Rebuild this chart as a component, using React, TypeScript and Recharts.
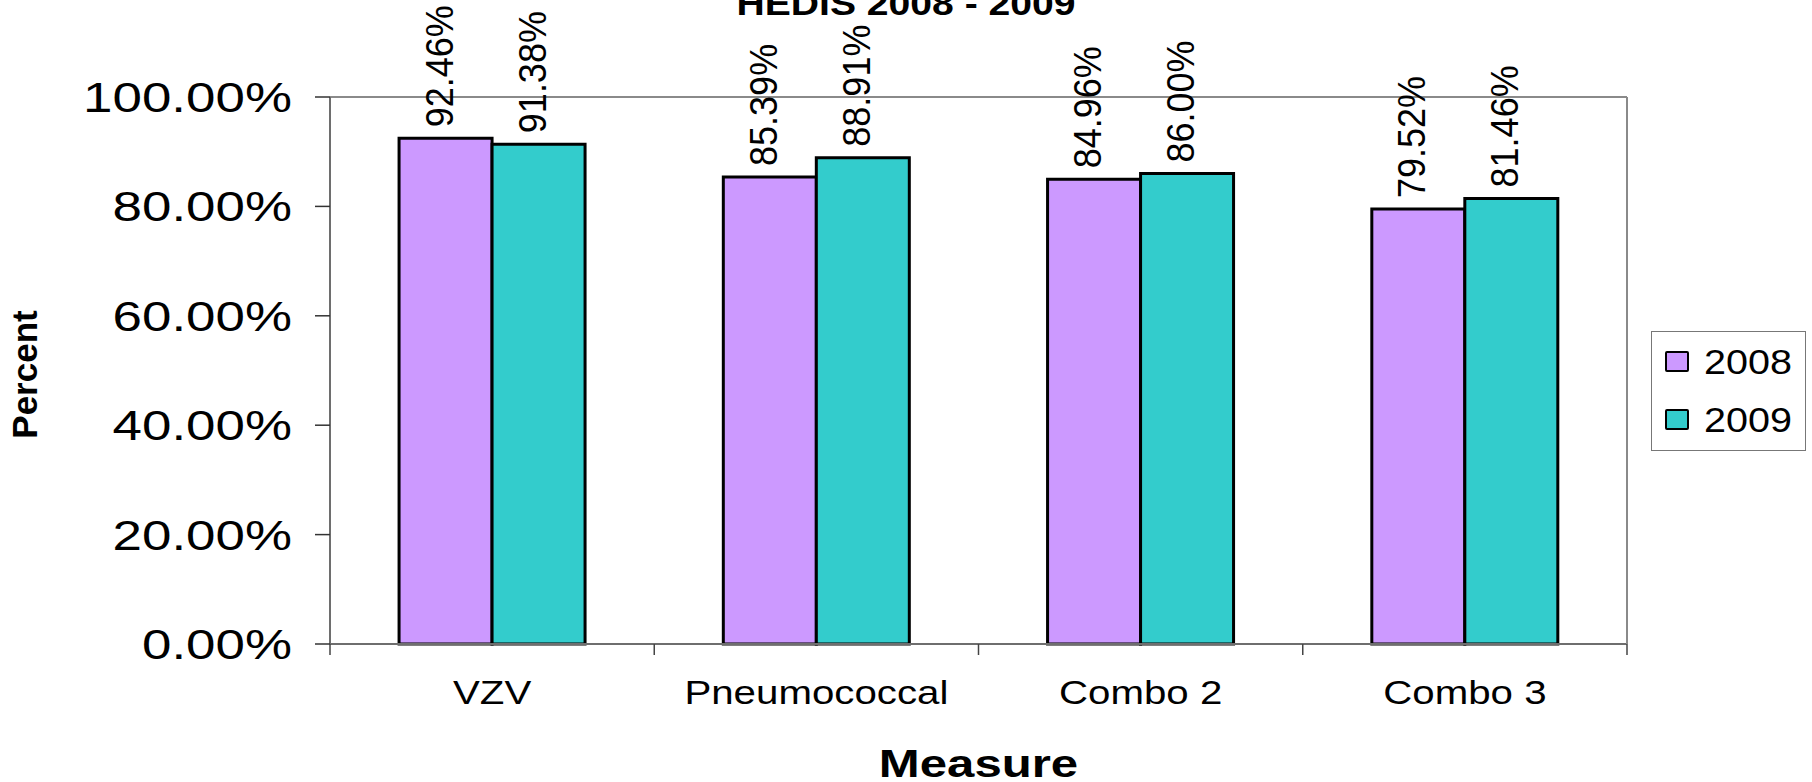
import React from "react"
import { BarChart, Bar, XAxis, YAxis, Legend, LabelList, Label } from "recharts"

const measures = ["VZV", "Pneumococcal", "Combo 2", "Combo 3"]
const rate2008 = [92.46, 85.39, 84.96, 79.52]
const rate2009 = [91.38, 88.91, 86.0, 81.46]
const yTicks = [0, 20, 40, 60, 80, 100]
const edgeTicks = [0, 1, 2, 3, 4]
const seriesNames = ["2008", "2009"]
const seriesColors = ["#CC99FF", "#33CCCC"]

const data = measures.map((m, i) => ({
  measure: m,
  y2008: rate2008[i],
  y2009: rate2009[i],
}))

const FONT = '"Liberation Sans", Arial, sans-serif'

function YTick(props: any) {
  const { x, y, payload } = props
  return (
    <g transform={`translate(${x},${y})`}>
      <text transform="scale(1.26,1)" textAnchor="end" dy="0.355em" fontSize={42} fontFamily={FONT} fill="#000">
        {Number(payload.value).toFixed(2)}%
      </text>
    </g>
  )
}

function MeasureTick(props: any) {
  const { x, y, payload } = props
  return (
    <g transform={`translate(${x},${y})`}>
      <text transform="scale(1.22,1)" textAnchor="middle" fontSize={33} fontFamily={FONT} fill="#000">
        {payload.value}
      </text>
    </g>
  )
}

const EmptyTick = () => <g />

function ValueLabel(props: any) {
  const { x, y, width, value } = props
  const cx = Number(x) + Number(width) / 2 + 7
  const cy = Number(y) - 11
  return (
    <text transform={`translate(${cx},${cy}) scale(1.1,1) rotate(-90)`} fontSize={36} fontFamily={FONT} fill="#000">
      {Number(value).toFixed(2)}%
    </text>
  )
}

function PercentLabel(props: any) {
  const { x, y, height } = props.viewBox
  return (
    <text
      transform={`translate(${x + 37},${y + height / 2 + 4}) rotate(-90)`}
      textAnchor="middle"
      fontSize={35}
      fontWeight="bold"
      fontFamily={FONT}
      fill="#000"
    >
      Percent
    </text>
  )
}

function MeasureLabel(props: any) {
  const { x, y, width } = props.viewBox
  return (
    <text
      transform={`translate(${x + width / 2},${y + 132}) scale(1.26,1)`}
      textAnchor="middle"
      fontSize={39}
      fontWeight="bold"
      fontFamily={FONT}
      fill="#000"
    >
      Measure
    </text>
  )
}

function LegendBox() {
  return (
    <div style={{ width: 178, height: 120, paddingLeft: 23, boxSizing: "border-box" }}>
      <div
        style={{
          width: 155,
          height: 120,
          border: "1.5px solid #777",
          boxSizing: "border-box",
          paddingLeft: 12.5,
          background: "#fff",
        }}
      >
        {seriesNames.map((name, i) => (
          <div key={name} style={{ height: 58.5, display: "flex", alignItems: "center" }}>
            <span
              style={{
                width: 24,
                height: 21,
                boxSizing: "border-box",
                border: "2.5px solid #000",
                borderRadius: 2,
                background: seriesColors[i],
                display: "inline-block",
              }}
            />
            <span
              style={{
                marginLeft: 15,
                fontSize: 35,
                lineHeight: 1,
                fontFamily: FONT,
                color: "#000",
                display: "inline-block",
                transform: "scaleX(1.13)",
                transformOrigin: "left center",
              }}
            >
              {name}
            </span>
          </div>
        ))}
      </div>
    </div>
  )
}

export default function App() {
  return (
    <div style={{ position: "absolute", left: 0, top: 0, width: 1812, height: 782, background: "#fff", overflow: "hidden" }}>
      <div
        style={{
          position: "absolute",
          left: 0,
          top: -14,
          width: 1812,
          textAlign: "center",
          fontFamily: FONT,
          fontWeight: "bold",
          fontSize: 34,
          lineHeight: "34px",
          transform: "scaleX(1.15)",
          color: "#000",
        }}
      >
        HEDIS 2008 - 2009
      </div>
      <BarChart
        width={1812}
        height={782}
        data={data}
        margin={{ top: 96, right: 6, bottom: 0, left: 0 }}
        barCategoryGap="21.3%"
        barGap={0}
      >
        <XAxis
          xAxisId="b_cat"
          dataKey="measure"
          height={137}
          axisLine={false}
          tickLine={false}
          tickSize={0}
          tickMargin={59}
          interval={0}
          tick={MeasureTick}
        >
          <Label content={MeasureLabel} />
        </XAxis>
        <XAxis
          xAxisId="a_edges"
          type="number"
          dataKey={(d: any) => measures.indexOf(d.measure)}
          domain={[0, 4]}
          ticks={edgeTicks}
          interval={0}
          allowDataOverflow
          height={1}
          tick={EmptyTick}
          tickSize={11}
          tickLine={{ stroke: "#444", strokeWidth: 1.5 }}
          axisLine={{ stroke: "#6e6e6e", strokeWidth: 2 }}
        />
        <XAxis
          xAxisId="top"
          orientation="top"
          dataKey="measure"
          height={1}
          tick={false}
          tickLine={false}
          axisLine={{ stroke: "#8a8a8a", strokeWidth: 2 }}
        />
        <YAxis
          yAxisId="pct"
          width={330}
          domain={[0, 100]}
          ticks={yTicks}
          interval={0}
          tickSize={15}
          tickMargin={23}
          tick={YTick}
          tickLine={{ stroke: "#333", strokeWidth: 1.5 }}
          axisLine={{ stroke: "#6e6e6e", strokeWidth: 2 }}
        >
          <Label content={PercentLabel} />
        </YAxis>
        <YAxis
          yAxisId="right"
          orientation="right"
          dataKey="y2009"
          width={1}
          domain={[0, 100]}
          tick={false}
          tickLine={false}
          axisLine={{ stroke: "#8a8a8a", strokeWidth: 2 }}
        />
        <Legend layout="vertical" align="right" verticalAlign="middle" content={LegendBox} />
        <Bar
          xAxisId="b_cat"
          yAxisId="pct"
          dataKey="y2008"
          name={seriesNames[0]}
          fill={seriesColors[0]}
          stroke="#000"
          strokeWidth={3}
          isAnimationActive={false}
        >
          <LabelList dataKey="y2008" content={ValueLabel} />
        </Bar>
        <Bar
          xAxisId="b_cat"
          yAxisId="pct"
          dataKey="y2009"
          name={seriesNames[1]}
          fill={seriesColors[1]}
          stroke="#000"
          strokeWidth={3}
          isAnimationActive={false}
        >
          <LabelList dataKey="y2009" content={ValueLabel} />
        </Bar>
      </BarChart>
    </div>
  )
}
